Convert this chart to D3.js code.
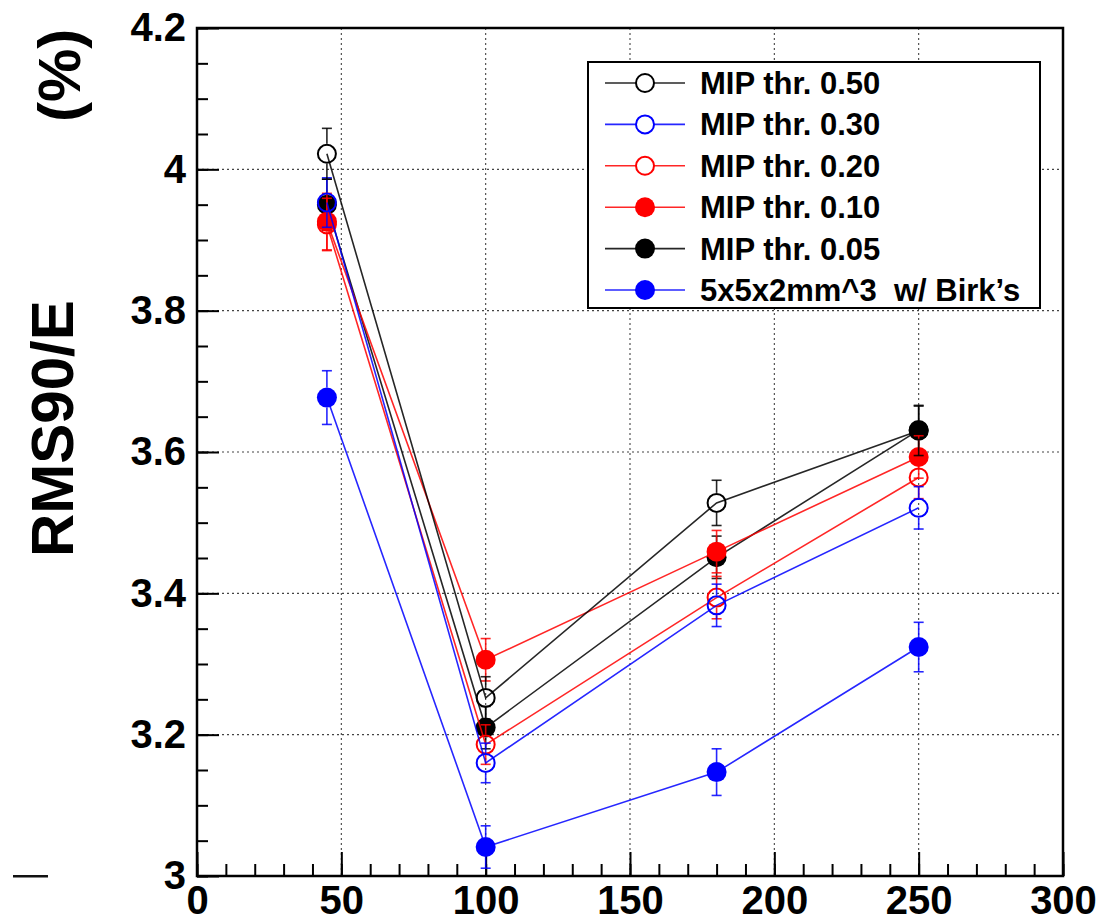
<!DOCTYPE html>
<html>
<head>
<meta charset="utf-8">
<script src="https://cdn.jsdelivr.net/npm/d3@7"></script>
<style>
  html, body { margin: 0; padding: 0; background: #fff; }
  svg { display: block; font-family: "Liberation Sans", Arial, Helvetica, sans-serif; }
</style>
</head>
<body>
<svg id="chart" width="1120" height="921"></svg>
<script>
// Beam energies (GeV)
const energies = [45, 100, 180, 250];

// RMS90/E (%) per MIP threshold
const thr050 = [4.022, 3.252, 3.528, 3.630];
const thr030 = [3.953, 3.160, 3.383, 3.521];
const thr020 = [3.922, 3.186, 3.394, 3.564];
const thr010 = [3.926, 3.306, 3.459, 3.593];
const thr005 = [3.950, 3.210, 3.451, 3.631];
const birks  = [3.677, 3.041, 3.147, 3.324];

// Statistical uncertainties
const err050 = [0.036, 0.030, 0.032, 0.035];
const err030 = [0.035, 0.028, 0.030, 0.030];
const err020 = [0.037, 0.028, 0.030, 0.030];
const err010 = [0.040, 0.030, 0.030, 0.030];
const err005 = [0.036, 0.030, 0.030, 0.035];
const errBirks = [0.038, 0.030, 0.033, 0.035];

const legendLabels = ["MIP thr. 0.50", "MIP thr. 0.30", "MIP thr. 0.20",
                      "MIP thr. 0.10", "MIP thr. 0.05", "5x5x2mm^3  w/ Birk\u2019s"];

const xMajor = [0, 50, 100, 150, 200, 250, 300];
const yMajor = [3, 3.2, 3.4, 3.6, 3.8, 4, 4.2];
const xGrid = [50, 100, 150, 200, 250];
const yGrid = [3.2, 3.4, 3.6, 3.8, 4];

const series = [
  { name: legendLabels[0], vals: thr050, errs: err050, color: "#000000", filled: false },
  { name: legendLabels[1], vals: thr030, errs: err030, color: "#0000ff", filled: false },
  { name: legendLabels[2], vals: thr020, errs: err020, color: "#ff0000", filled: false },
  { name: legendLabels[3], vals: thr010, errs: err010, color: "#ff0000", filled: true },
  { name: legendLabels[4], vals: thr005, errs: err005, color: "#000000", filled: true },
  { name: legendLabels[5], vals: birks,  errs: errBirks, color: "#0000ff", filled: true }
];

const svg = d3.select("#chart");
const L = 197, R = 1063, T = 28, B = 876;
const x = d3.scaleLinear().domain([0, 300]).range([L, R]);
const y = d3.scaleLinear().domain([3, 4.2]).range([B, T]);

// dotted grid
const grid = svg.append("g").attr("stroke", "#444").attr("stroke-width", 1.1)
  .attr("stroke-dasharray", "2,3");
grid.selectAll("line.gx").data(xGrid).join("line")
  .attr("x1", d => x(d)).attr("x2", d => x(d)).attr("y1", T).attr("y2", B);
grid.selectAll("line.gy").data(yGrid).join("line")
  .attr("x1", L).attr("x2", R).attr("y1", d => y(d)).attr("y2", d => y(d));

// minor ticks
svg.append("g").attr("transform", `translate(0,${B})`)
  .call(d3.axisBottom(x).tickValues(d3.range(0, 301, 10)).tickSizeInner(-12).tickSizeOuter(0).tickFormat(""))
  .call(g => g.select(".domain").remove())
  .call(g => g.selectAll("line").attr("stroke", "#000").attr("stroke-width", 2));
svg.append("g").attr("transform", `translate(${L},0)`)
  .call(d3.axisLeft(y).tickValues(d3.range(0, 25).map(i => 3 + i * 0.05)).tickSizeInner(-11).tickSizeOuter(0).tickFormat(""))
  .call(g => g.select(".domain").remove())
  .call(g => g.selectAll("line").attr("stroke", "#000").attr("stroke-width", 2));

// major ticks with labels
svg.append("g").attr("transform", `translate(0,${B})`)
  .call(d3.axisBottom(x).tickValues(xMajor).tickSizeInner(-24).tickSizeOuter(0).tickPadding(10).tickFormat(d3.format("d")))
  .call(g => g.select(".domain").remove())
  .call(g => g.selectAll("line").attr("stroke", "#000").attr("stroke-width", 2))
  .call(g => g.selectAll("text").attr("fill", "#000").attr("font-size", 40).attr("font-weight", "bold")
    .attr("font-family", "Liberation Sans, Arial, sans-serif"));
svg.append("g").attr("transform", `translate(${L},0)`)
  .call(d3.axisLeft(y).tickValues(yMajor).tickSizeInner(-22).tickSizeOuter(0).tickPadding(11).tickFormat(d3.format("~g")))
  .call(g => g.select(".domain").remove())
  .call(g => g.selectAll("line").attr("stroke", "#000").attr("stroke-width", 2))
  .call(g => g.selectAll("text").attr("fill", "#000").attr("font-size", 40).attr("font-weight", "bold")
    .attr("font-family", "Liberation Sans, Arial, sans-serif"));

// frame
svg.append("rect").attr("x", L).attr("y", T).attr("width", R - L).attr("height", B - T)
  .attr("fill", "none").attr("stroke", "#000").attr("stroke-width", 2.5);

// y title
svg.append("text").attr("transform", "translate(73,557) rotate(-90)")
  .attr("font-size", 60).attr("font-weight", "bold").attr("fill", "#000")
  .text("RMS90/E");
svg.append("text").attr("transform", "translate(80,122) rotate(-90)")
  .attr("font-size", 60).attr("font-weight", "bold").attr("fill", "#000")
  .text("(%)");

// small mark at lower left
svg.append("path").attr("d", "M13,875 L48,875 L48,877.5 L13,877.5 Z").attr("fill", "#111");

const rM = 10;
const line = d3.line().x((d, i) => x(energies[i])).y(d => y(d));

// draw order: filled first, open rings on top
const drawOrder = [5, 4, 3, 2, 1, 0];
drawOrder.forEach(k => {
  const s = series[k];
  const g = svg.append("g");
  g.append("path").datum(s.vals).attr("d", line)
    .attr("fill", "none").attr("stroke", s.color).attr("stroke-width", 1.6).attr("stroke-opacity", 0.85);
  const pts = s.vals.map((v, i) => ({ x: energies[i], v, e: s.errs[i] }));
  // error bars outside the marker
  g.selectAll("line.eu").data(pts).join("line")
    .attr("x1", d => x(d.x)).attr("x2", d => x(d.x))
    .attr("y1", d => y(d.v) - rM).attr("y2", d => Math.min(y(d.v) - rM, y(d.v + d.e)))
    .attr("stroke", s.color).attr("stroke-width", 1.6).attr("stroke-opacity", 0.85);
  g.selectAll("line.ed").data(pts).join("line")
    .attr("x1", d => x(d.x)).attr("x2", d => x(d.x))
    .attr("y1", d => y(d.v) + rM).attr("y2", d => Math.max(y(d.v) + rM, y(d.v - d.e)))
    .attr("stroke", s.color).attr("stroke-width", 1.6).attr("stroke-opacity", 0.85);
  ["u", "d"].forEach(side => {
    g.selectAll("line.cap" + side).data(pts).join("line")
      .attr("x1", d => x(d.x) - 5).attr("x2", d => x(d.x) + 5)
      .attr("y1", d => side === "u" ? y(d.v + d.e) : y(d.v - d.e))
      .attr("y2", d => side === "u" ? y(d.v + d.e) : y(d.v - d.e))
      .attr("stroke", s.color).attr("stroke-width", 1.6).attr("stroke-opacity", 0.85);
  });
  g.selectAll("circle").data(pts).join("circle")
    .attr("cx", d => x(d.x)).attr("cy", d => y(d.v)).attr("r", s.filled ? rM : rM - 1)
    .attr("fill", s.filled ? s.color : "none")
    .attr("stroke", s.color).attr("stroke-width", s.filled ? 0 : 2);
});

// legend
const lg = svg.append("g");
lg.append("rect").attr("x", 588).attr("y", 62).attr("width", 452).attr("height", 246)
  .attr("fill", "#fff").attr("stroke", "#000").attr("stroke-width", 2);
const rowY = i => 83 + i * 41.4;
series.forEach((s, i) => {
  const cy = rowY(i);
  lg.append("line").attr("x1", 605).attr("x2", 685).attr("y1", cy).attr("y2", cy)
    .attr("stroke", s.color).attr("stroke-width", 1.6).attr("stroke-opacity", 0.85);
  lg.append("circle").attr("cx", 645).attr("cy", cy).attr("r", s.filled ? rM : rM - 1)
    .attr("fill", s.filled ? s.color : "#fff").attr("stroke", s.color).attr("stroke-width", s.filled ? 0 : 2);
  lg.append("text").attr("x", 700).attr("y", cy + 11).attr("font-size", 31).attr("font-weight", "bold")
    .attr("fill", "#000").attr("xml:space", "preserve").style("white-space", "pre").text(s.name);
});
</script>
</body>
</html>
